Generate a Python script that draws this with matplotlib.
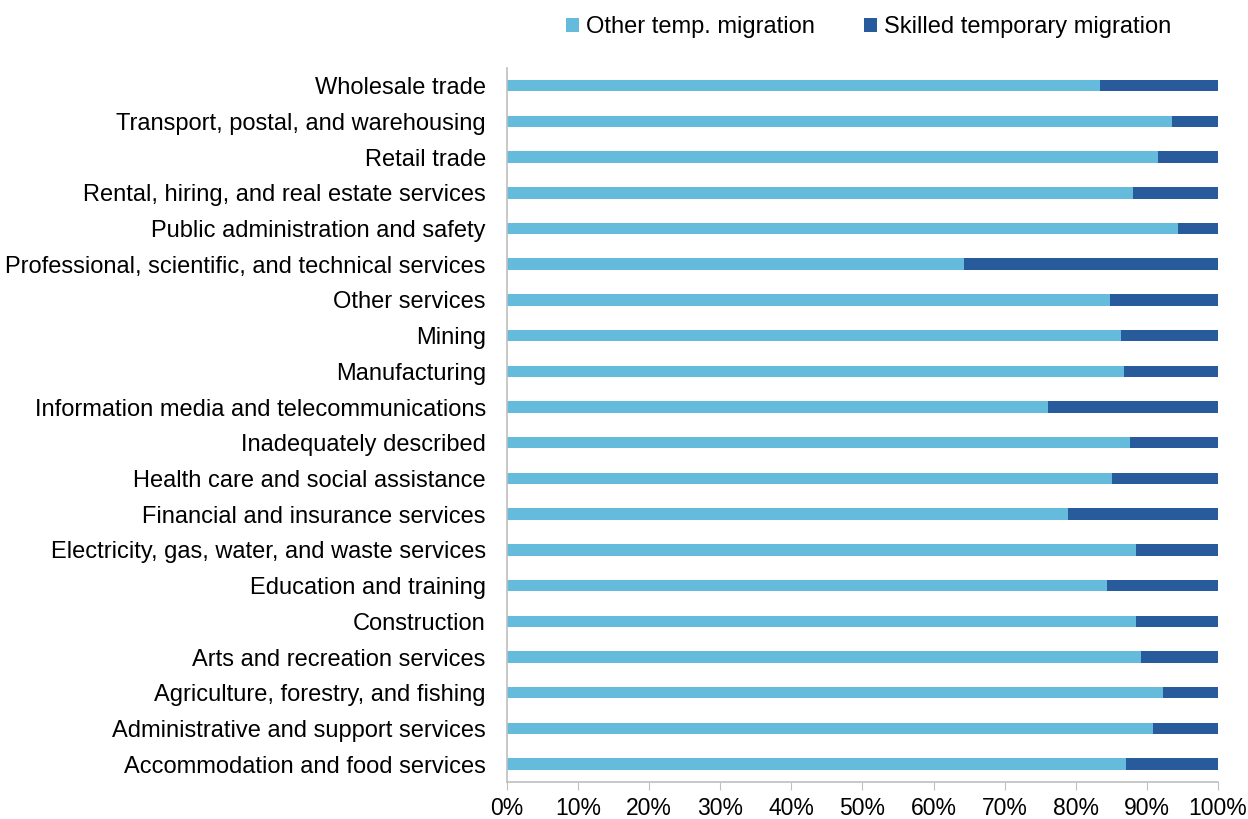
import matplotlib
matplotlib.use("Agg")
import matplotlib.pyplot as plt
from matplotlib.ticker import FuncFormatter, MultipleLocator

categories = [
    "Accommodation and food services",
    "Administrative and support services",
    "Agriculture, forestry, and fishing",
    "Arts and recreation services",
    "Construction",
    "Education and training",
    "Electricity, gas, water, and waste services",
    "Financial and insurance services",
    "Health care and social assistance",
    "Inadequately described",
    "Information media and telecommunications",
    "Manufacturing",
    "Mining",
    "Other services",
    "Professional, scientific, and technical services",
    "Public administration and safety",
    "Rental, hiring, and real estate services",
    "Retail trade",
    "Transport, postal, and warehousing",
    "Wholesale trade",
]
other_temp = [87.1, 90.9, 92.3, 89.2, 88.5, 84.4, 88.5, 78.9, 85.1, 87.6,
              76.1, 86.8, 86.3, 84.8, 64.3, 94.4, 88.0, 91.6, 93.5, 83.4]
skilled_temp = [100 - v for v in other_temp]

series_names = ["Other temp. migration", "Skilled temporary migration"]
colors = ["#65BBDB", "#275B9B"]

plt.rcParams['font.family'] = ['Liberation Sans', 'DejaVu Sans']

fig = plt.figure(figsize=(12.48, 8.19), dpi=100)
ax = fig.add_axes([0.406, 0.0452, 0.570, 0.872])

y = list(range(len(categories)))
h = 0.32
ax.barh(y, other_temp, height=h, color=colors[0], label=series_names[0])
ax.barh(y, skilled_temp, left=other_temp, height=h, color=colors[1], label=series_names[1])

ax.set_ylim(-0.5, len(categories) - 0.5)
ax.set_xlim(0, 100)
ax.set_yticks(y)
ax.set_yticklabels(categories, fontsize=17)
ax.tick_params(axis='y', length=0, pad=15)
ax.xaxis.set_major_locator(MultipleLocator(10))
ax.xaxis.set_major_formatter(FuncFormatter(lambda v, p: f"{int(round(v))}%"))
ax.tick_params(axis='x', labelsize=16.5, length=6, color='#BFBFBF', direction='out', pad=5)

for s in ['top', 'right']:
    ax.spines[s].set_visible(False)
for s in ['left', 'bottom']:
    ax.spines[s].set_color('#BFBFBF')
    ax.spines[s].set_linewidth(1.2)

fig.legend(loc='center', bbox_to_anchor=(0.696, 0.967), ncol=2, frameon=False,
           fontsize=17, handlelength=0.55, handleheight=0.55, handletextpad=0.3,
           columnspacing=2.1)

fig.savefig("out.png", dpi=100)
